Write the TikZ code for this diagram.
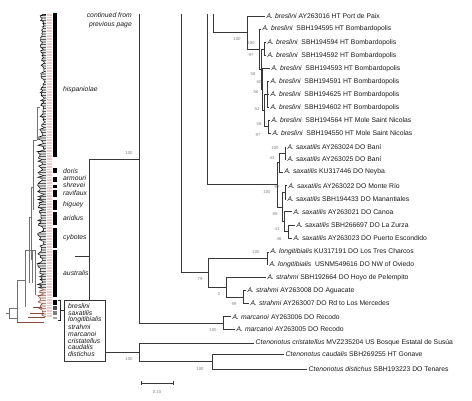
\documentclass[tikz,border=0pt]{standalone}
\usepackage{fontspec}
\setmainfont{Liberation Sans}
\newcommand\fs{\fontsize{6.8}{8.5}\selectfont}
\newcommand\fbs{\fontsize{4.3}{5}\selectfont}
\definecolor{tickpink}{HTML}{F2CACA}
\definecolor{outbrown}{HTML}{8A4A3A}
\begin{document}
\begin{tikzpicture}[x=1pt,y=-1pt,
  br/.style={draw=black!78, line width=0.75pt},
  thin/.style={draw=black!55, line width=0.5pt},
  tip/.style={anchor=west, inner xsep=1.5pt, inner ysep=0.5pt, font=\fs, text=black!90},
  bs/.style={font=\fbs, text=black!50, inner sep=0pt},
  clade/.style={anchor=west, inner sep=0pt, font=\fs\itshape, text=black!90},
  bar/.style={fill=black, draw=none}]
\useasboundingbox (0,0) rectangle (472,401);

% ---------------- thumbnail tree (left) ----------------
\pgfmathsetseed{7}
\def\px{42}\def\py{14}
\foreach \i in {0,...,189}{
  \pgfmathsetmacro\yy{14+\i*1.6}
  \ifnum\i<75
    \pgfmathsetmacro\xx{40+rnd*4.5}
  \else
    \pgfmathsetmacro\xx{37.5+rnd*7}
  \fi
  \ifnum\i<172 \def\cc{black}\else\def\cc{outbrown}\fi
  \draw[line width=0.45pt,\cc] (\px,\py) -- (\xx,\yy) -- (46,\yy);
  \draw[line width=0.4pt,tickpink] (46.5,\yy) -- (52,\yy);
  \xdef\px{\xx}\xdef\py{\yy}
}
\draw[thin] (37,107) -- (37,140) (37,107) -- (40,107);
\draw[thin] (33,140) -- (33,210) (33,140) -- (37,140);
\draw[thin] (31,187) -- (31,260) (31,187) -- (33,187);
\draw[thin] (29,217) -- (29,283) (29,217) -- (31,217);
\draw[thin] (35,250) -- (35,295) (32,250) -- (32,283);
\draw[thin] (25,250) -- (25,307) (25,250) -- (35,250);
\draw[thin] (17,280) -- (17,322) (17,280) -- (25,280);
\draw[thin] (9,308) -- (9,318) (6,313) -- (9,313) (9,308) -- (17,308) (9,318) -- (17,318);
\draw[line width=0.8pt,outbrown] (17,322) -- (44,322) (28,317) -- (45,317) (30,313) -- (44,313) (33,307) -- (42,307);

% bars
\fill[bar] (53,13) rectangle (57,157);
\fill[bar] (53,168) rectangle (57,173);
\fill[bar] (53,177) rectangle (57,182);
\fill[bar] (53,185) rectangle (57,188);
\fill[bar] (53,190) rectangle (57,197);
\fill[bar] (53,200) rectangle (57,210);
\fill[bar] (53,212) rectangle (57,225);
\fill[bar] (53,228) rectangle (57,248);
\fill[bar] (53,250) rectangle (57,297);
\fill[bar] (53,300) rectangle (57,305);
\fill[black!70] (53,306) rectangle (57,310);
\fill[black!50] (53,311) rectangle (57,315);
\fill[black!35] (53,317) rectangle (57,319);

\node[clade] (lhis) at (63,90) {hispaniolae};
\node[clade] (ldor) at (63,171) {doris};
\node[clade] (larm) at (63,178) {armouri};
\node[clade] (lshr) at (63,185) {shrevei};
\node[clade] (lrav) at (63,193) {ravifaux};
\node[clade] (lhig) at (63,205) {higuey};
\node[clade] (lari) at (63,218) {aridius};
\node[clade] (lcyb) at (63,238) {cybotes};
\node[clade] (laus) at (63,273) {australis};

% bracket and box
\draw[line width=0.6pt,black!85] (58,300) -- (60,300) -- (60,320) -- (58,320);
\node[draw=black!80, line width=0.6pt, minimum width=41pt, minimum height=61pt, inner sep=0pt, anchor=north west] (box) at (64,300) {};
\draw[line width=0.6pt,black!85] (60,310) -- (box.west |- 0,310);
\foreach \n/\t/\y in {b1/breslini/306.5,b2/saxatilis/313.3,b3/longitibialis/320.2,b4/strahmi/327,b5/marcanoi/333.8,b6/cristatellus/340.6,b7/caudalis/347.4,b8/distichus/354.2}{
  \node[clade] (\n) at (68,\y) {\t};
}

\node[anchor=north east, align=right, inner sep=0pt, font=\fs\itshape, text=black!90] (cont) at (132,12.5) {continued from\\previous page};

% ---------------- main tree ----------------
% tips
\node[tip] (t1) at (265,16) {\textit{A. breslini} AY263016 HT Port de Paix};
\node[tip] (t2) at (261,29) {\textit{A. breslini}~ SBH194595 HT Bombardopolis};
\node[tip] (t3) at (266,42.5) {\textit{A. breslini}~ SBH194594 HT Bombardopolis};
\node[tip] (t4) at (266,55.3) {\textit{A. breslini}~ SBH194592 HT Bombardopolis};
\node[tip] (t5) at (270,68.3) {\textit{A. breslini}~ SBH194593 HT Bombardopolis};
\node[tip] (t6) at (269,81.3) {\textit{A. breslini}~ SBH194591 HT Bombardopolis};
\node[tip] (t7) at (269,94.3) {\textit{A. breslini}~ SBH194625 HT Bombardopolis};
\node[tip] (t8) at (269,107.3) {\textit{A. breslini}~ SBH194602 HT Bombardopolis};
\node[tip] (t9) at (270,120) {\textit{A. breslini}~ SBH194564 HT Mole Saint Nicolas};
\node[tip] (t10) at (271,133) {\textit{A. breslini}~ SBH194550 HT Mole Saint Nicolas};

\node[tip] (s1) at (286,147) {\textit{A. saxatilis} AY263024 DO Baní};
\node[tip] (s2) at (286,159.5) {\textit{A. saxatilis} AY263025 DO Baní};
\node[tip] (s3) at (283,172) {\textit{A. saxatilis} KU317446 DO Neyba};
\node[tip] (s4) at (287,185.7) {\textit{A. saxatilis} AY263022 DO Monte Río};
\node[tip] (s5) at (286,199) {\textit{A. saxatilis} SBH194433 DO Manantiales};
\node[tip] (s6) at (292,211.7) {\textit{A. saxatilis} AY263021 DO Canoa};
\node[tip] (s7) at (295,225) {\textit{A. saxatilis} SBH266697 DO La Zurza};
\node[tip] (s8) at (292,238) {\textit{A. saxatilis} AY263023 DO Puerto Escondido};

\node[tip] (l1) at (269,252) {\textit{A. longitibialis} KU317191 DO Los Tres Charcos};
\node[tip] (l2) at (268,264.5) {\textit{A. longitibialis}~ USNM549616 DO NW of Oviedo};
\node[tip] (st1) at (266,277.7) {\textit{A. strahmi} SBH192664 DO Hoyo de Pelempito};
\node[tip] (st2) at (246,290.7) {\textit{A. strahmi} AY263008 DO Aguacate};
\node[tip] (st3) at (249,303.3) {\textit{A. strahmi} AY263007 DO Rd to Los Mercedes};
\node[tip] (m1) at (231,316.7) {\textit{A. marcanoi} AY263006 DO Recodo};
\node[tip] (m2) at (235,329.5) {\textit{A. marcanoi} AY263005 DO Recodo};

\node[tip] (c1) at (254,343) {\textit{Ctenonotus cristatellus} MVZ235204 US Bosque Estatal de Susúa};
\node[tip] (c2) at (284,354) {\textit{Ctenonotus caudalis} SBH269255 HT Gonave};
\node[tip] (c3) at (307,369) {\textit{Ctenonotus distichus} SBH193223 DO Tenares};

% internal nodes
\coordinate (N8) at (268,126.5);
\coordinate (N7) at (267,94.3);
\coordinate (N6) at (264.5,110.4);
\coordinate (N5) at (262.5,89.4);
\coordinate (N4) at (264,49);
\coordinate (N3) at (261.5,69.2);
\coordinate (N2) at (259.5,49.1);
\coordinate (N1) at (247,32.5);

\coordinate (SA) at (285,153.2);
\coordinate (SA2) at (279,162.6);
\coordinate (SB1) at (285,192.3);
\coordinate (SC2) at (288,231.5);
\coordinate (SC) at (284,221.6);
\coordinate (SB) at (282,207);
\coordinate (SR) at (277,184.8);

\coordinate (L) at (267,258.2);
\coordinate (ST2) at (243,297);
\coordinate (ST) at (226,287.4);
\coordinate (LS) at (208,272.8);
\coordinate (M) at (223,323.1);
\coordinate (CD) at (212,361.5);
\coordinate (R) at (139,352.2);

\coordinate (top139) at (139,14);
\coordinate (top181) at (181,14);
\coordinate (top207) at (207,14);
\coordinate (top213) at (213,14);
\coordinate (ing) at (89,159);
\coordinate (ingend) at (89,300);
\coordinate (aus) at (75,256);

% branches
\draw[br] (N1) |- (t1.west) (N1) |- (N2);
\draw[br] (N2) |- (t2.west) (N2) |- (N3);
\draw[br] (N3) |- (N4) (N3) |- (N5);
\draw[br] (N4) |- (t3.west) (N4) |- (t4.west);
\draw[br] (N5) |- (t5.west) (N5) |- (N6);
\draw[br] (N6) |- (N7) (N6) |- (N8);
\draw[br] (N7) |- (t6.west) (N7) |- (t7.west) (N7) |- (t8.west);
\draw[br] (N8) |- (t9.west) (N8) |- (t10.west);

\draw[br] (SR) |- (SA2) (SR) |- (SB);
\draw[br] (SA2) |- (SA) (SA2) |- (s3.west);
\draw[br] (SA) |- (s1.west) (SA) |- (s2.west);
\draw[br] (SB) |- (SB1) (SB) |- (SC);
\draw[br] (SB1) |- (s4.west) (SB1) |- (s5.west);
\draw[br] (SC) |- (s6.west) (SC) |- (SC2);
\draw[br] (SC2) |- (s7.west) (SC2) |- (s8.west);

\draw[br] (LS) |- (L) (LS) |- (ST);
\draw[br] (L) |- (l1.west) (L) |- (l2.west);
\draw[br] (ST) |- (st1.west) (ST) |- (ST2);
\draw[br] (ST2) |- (st2.west) (ST2) |- (st3.west);
\draw[br] (M) |- (m1.west) (M) |- (m2.west);

\draw[br] (top139) |- (M);
\draw[br] (top181) |- (LS);
\draw[br] (top207) |- (SR);
\draw[br] (top213) |- (N1);
\draw[br] (ing) -- (ing -| top139);
\draw[br] (ing) -- (ingend);
\draw[br] (aus) -- (aus -| ing);

\draw[br] (R) |- (c1.west) (R) |- (CD);
\draw[br] (CD) |- (c2.west) (CD) |- (c3.west);
\draw[br] (box.east |- R) -- (R);

% bootstrap values
\node[bs] (v1) at (237,39) {100};
\node[bs] (v2) at (251,43.5) {100};
\node[bs] (v3) at (251,55) {97};
\node[bs] (v4) at (253,74) {58};
\node[bs] (v5) at (259,82) {60};
\node[bs] (v6) at (256,92) {56};
\node[bs] (v7) at (257,109) {51};
\node[bs] (v8) at (259,124) {58};
\node[bs] (v9) at (258,135) {97};
\node[bs] (v10) at (275,148) {100};
\node[bs] (v11) at (272,158) {43};
\node[bs] (v12) at (277,187) {97};
\node[bs] (v13) at (267,192) {100};
\node[bs] (v14) at (275,214) {89};
\node[bs] (v15) at (277,229) {41};
\node[bs] (v16) at (279,239) {46};
\node[bs] (v17) at (256,252) {100};
\node[bs] (v18) at (200,279) {79};
\node[bs] (v19) at (219,294) {2};
\node[bs] (v20) at (234,304.5) {99};
\node[bs] (v21) at (213,330) {100};
\node[bs] (v22) at (129,153) {100};
\node[bs] (v23) at (129,359) {100};
\node[bs] (v24) at (200,369) {100};

% scale bar
\coordinate (sb1) at (141,383);
\coordinate (sb2) at (173,383);
\draw[br] (sb1) -- (sb2);
\draw[br] ([yshift=-2pt]sb1) -- ([yshift=2pt]sb1);
\draw[br] ([yshift=-2pt]sb2) -- ([yshift=2pt]sb2);
\node[bs] (sbl) at (157,392) {0.10};
\end{tikzpicture}
\end{document}
